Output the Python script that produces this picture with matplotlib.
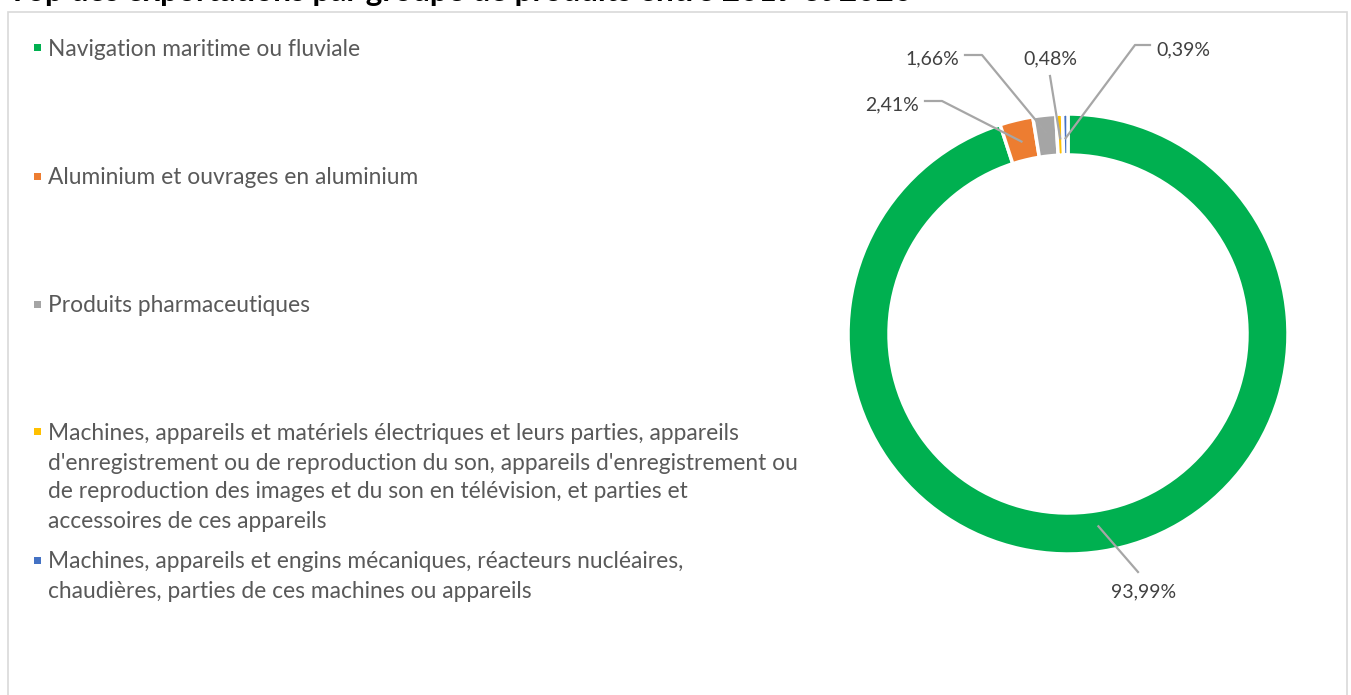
import numpy as np
import matplotlib
matplotlib.use("Agg")
import matplotlib.pyplot as plt
from matplotlib.patches import Rectangle
from matplotlib.lines import Line2D

# ---------------- data ----------------
title = "Top des exportations par groupe de produits entre 2019 et 2020"
categories = [
    "Navigation maritime ou fluviale",
    "Aluminium et ouvrages en aluminium",
    "Produits pharmaceutiques",
    "Machines, appareils et matériels électriques et leurs parties, appareils\n"
    "d'enregistrement ou de reproduction du son, appareils d'enregistrement ou\n"
    "de reproduction des images et du son en télévision, et parties et\n"
    "accessoires de ces appareils",
    "Machines, appareils et engins mécaniques, réacteurs nucléaires,\n"
    "chaudières, parties de ces machines ou appareils",
]
values = [93.99, 2.41, 1.66, 0.48, 0.39]
value_labels = ["93,99%", "2,41%", "1,66%", "0,48%", "0,39%"]
colors = ["#00B050", "#ED7D31", "#A5A5A5", "#FFC000", "#4472C4"]

# ---------------- layout ----------------
W, H = 1351, 695
DPI = 100
FONT = "Lato"
TEXT_COLOR = "#595959"
LABEL_COLOR = "#404040"
LINE_COLOR = "#A6A6A6"

fig = plt.figure(figsize=(W / DPI, H / DPI), dpi=DPI)
fig.patch.set_facecolor("white")
ax = fig.add_axes([0, 0, 1, 1])

center_px = (1068, 334)
R = 220
ring_w = 41
cx, cy = center_px[0], H - center_px[1]

wedges, _ = ax.pie(values, colors=colors, startangle=90, counterclock=False,
                   radius=R, center=(cx, cy),
                   wedgeprops=dict(width=ring_w, edgecolor="white", linewidth=2.5))
ax.set_xlim(0, W)
ax.set_ylim(0, H)
ax.set_aspect("equal", adjustable="box")
ax.axis("off")

# chart frame
fig.patches.append(Rectangle((8 / W, -0.05), (1347 - 8) / W, 1 - 12 / H + 0.05,
                             transform=fig.transFigure, fill=False,
                             edgecolor="#D9D9D9", linewidth=1.2))

renderer = fig.canvas.get_renderer()

def fit_size(s, target_px, weight="normal", base=12):
    t = fig.text(0, 0, s, fontsize=base, family=FONT, fontweight=weight)
    w = t.get_window_extent(renderer).width
    t.remove()
    return base * target_px / w

leg_fs = fit_size("Navigation maritime ou fluviale", 312)
lab_fs = fit_size("93,99%", 65)
title_fs = fit_size(title, 900, weight="bold")

# title (mostly cut off at the top, as in the reference)
fig.text(8 / W, 1 - 1 / H, title, fontsize=title_fs, family=FONT,
         fontweight="bold", color="black", va="baseline", ha="left")

# legend
entry_y = [47, 176, 304, 432, 560]
line_pitch = 29
for cat, col, y0 in zip(categories, colors, entry_y):
    fig.patches.append(Rectangle(((37 - 3.5) / W, 1 - (y0 + 3.5) / H), 7 / W, 7 / H,
                                 transform=fig.transFigure, facecolor=col,
                                 edgecolor="none"))
    for k, line in enumerate(cat.split("\n")):
        y = y0 + k * line_pitch
        fig.text(48 / W, 1 - y / H, line, fontsize=leg_fs, family=FONT,
                 color=TEXT_COLOR, va="center_baseline", ha="left")

# data labels with leader lines
label_pos = [(1144, 590), (892, 103), (932, 57), (1050, 57), (1183, 48)]
elbows = [[(1138, 572)], [(925, 101), (942, 101)], [(965, 55), (982, 55)],
          [(1050, 76)], [(1150, 45), (1135, 45)]]
r_anchor = [0.885, 0.9, 0.92, 0.89, 0.89]
for w, lab, (lx, ly), el, ra in zip(wedges, value_labels, label_pos, elbows, r_anchor):
    th = np.deg2rad((w.theta1 + w.theta2) / 2)
    px, py = cx + ra * R * np.cos(th), cy + ra * R * np.sin(th)
    xs = [p[0] for p in el] + [px]
    ys = [H - p[1] for p in el] + [py]
    ax.add_line(Line2D(xs, ys, color=LINE_COLOR, linewidth=1.6, zorder=5))
    ax.text(lx, H - ly, lab, fontsize=lab_fs, family=FONT, color=LABEL_COLOR,
            ha="center", va="center_baseline")

fig.savefig("out.png", dpi=DPI, facecolor="white")
